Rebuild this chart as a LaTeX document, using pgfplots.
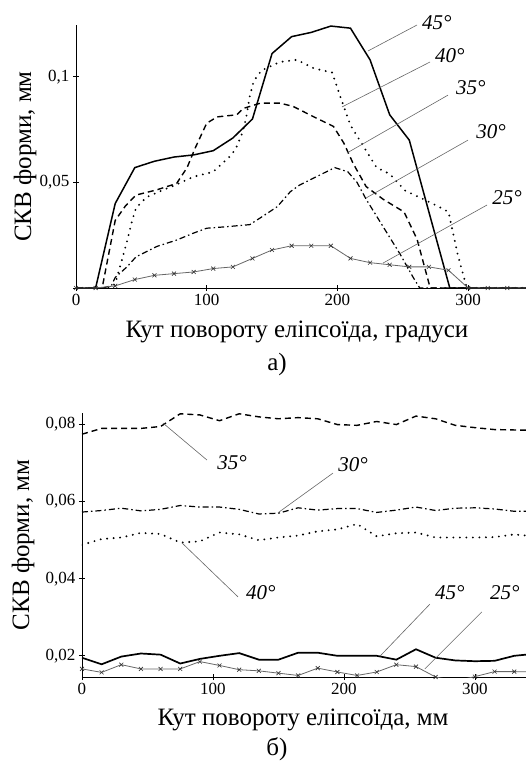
\documentclass[border=0pt]{standalone}
\usepackage{fontspec}
\setmainfont{Liberation Serif}
\usepackage{pgfplots}
\pgfplotsset{compat=1.18}
\tikzset{
 leader/.style={black!60, line width=0.6pt},
 deg/.style={font=\fontsize{21}{23}\selectfont\itshape},
}
\begin{document}
\begin{tikzpicture}
\useasboundingbox (0pt,0pt) rectangle (526pt,-766pt);
\pgfplotsset{
 common/.style={
  scale only axis, clip mode=individual,
  axis x line=bottom, axis y line=left,
  axis line style={-, line width=0.9pt},
  tick style={black, line width=0.8pt},
  tick align=center, major tick length=6pt,
  scaled y ticks=false, scaled x ticks=false,
  /pgf/number format/assume math mode=true,
  ticklabel style={font=\fontsize{17}{19}\selectfont},
  label style={font=\fontsize{25}{27}\selectfont},
 },
 s45/.style={black, line width=1.5pt, mark=none},
 s40/.style={black, line width=2.1pt, line cap=round, dash pattern=on 0pt off 6.5pt, mark=none},
 s35/.style={black, line width=1.4pt, dash pattern=on 6pt off 4pt, mark=none},
 s30/.style={black, line width=1.2pt, dash pattern=on 6pt off 3pt on 1.5pt off 3pt, mark=none},
 s25/.style={black!60, line width=0.8pt, mark=x, mark size=2.8pt, mark options={solid, black!80, line width=0.6pt}},
}
% ---------------- a) ----------------
\begin{axis}[common, at={(76pt,-288pt)}, anchor=south west,
  width=450pt, height=263pt,
  xmin=0, xmax=344.3, ymin=0, ymax=0.1245,
  xtick={0,100,200,300}, ytick={0,0.05,0.1},
  yticklabels={{},{0,05},{0,1}},
  xlabel={Кут повороту еліпсоїда, градуси},
  ylabel={СКВ форми, мм},
  xlabel style={at={(axis description cs:0.491,-0.167)}, anchor=center},
  ylabel style={at={(axis description cs:-0.1133,0.5)}, anchor=center},
]
\addplot[s45] coordinates {(0,0)(15,0)(30,0.040)(45,0.057)(60,0.060)(75,0.062)(90,0.063)(105,0.065)(120,0.071)(135,0.080)(150,0.111)(165,0.119)(180,0.121)(195,0.124)(210,0.123)(225,0.108)(240,0.082)(255,0.070)(270,0.036)(286,0)(345,0)};
\addplot[s40] coordinates {(0,0)(25,0)(30,0.002)(35,0.013)(39,0.022)(43,0.032)(46,0.038)(54,0.043)(67,0.0465)(77,0.049)(90,0.0527)(105,0.055)(112,0.059)(119,0.063)(123,0.067)(127,0.073)(130,0.080)(133,0.091)(136,0.098)(142,0.103)(156,0.107)(169,0.108)(182,0.104)(196,0.102)(202,0.091)(210,0.077)(222,0.065)(230,0.057)(240,0.054)(252,0.046)(266,0.042)(279,0.038)(285,0.036)(292,0.016)(299,0)(345,0)};
\addplot[s35] coordinates {(0,0)(20,0)(30,0.032)(38,0.039)(46,0.044)(62,0.0465)(77,0.0495)(85,0.057)(91,0.066)(100,0.078)(108,0.081)(123,0.082)(128,0.085)(141,0.0875)(156,0.0875)(166,0.086)(182,0.081)(197,0.0765)(205,0.0685)(212,0.059)(222,0.048)(235,0.042)(251,0.036)(261,0.023)(271,0)(345,0)};
\addplot[s30] coordinates {(0,0)(20,0)(27,0.001)(30,0.005)(39,0.010)(46,0.0148)(62,0.0197)(77,0.0227)(90,0.026)(100,0.0283)(115,0.029)(133,0.030)(143,0.034)(154,0.0385)(164,0.0456)(171,0.0487)(184,0.0527)(198,0.057)(208,0.055)(215,0.050)(222,0.042)(235,0.029)(248,0.016)(258,0.005)(263,0)(345,0)};
\addplot[s25] coordinates {(0,0)(15,0)(30,0.001)(45,0.004)(60,0.006)(75,0.0068)(90,0.0076)(105,0.0092)(120,0.010)(135,0.014)(150,0.018)(165,0.020)(180,0.020)(195,0.020)(210,0.014)(225,0.012)(240,0.011)(255,0.010)(270,0.010)(285,0.0084)(300,0)(315,0)(330,0)(345,0)};
\draw[leader] (axis cs:223.4,0.1122) -- (axis cs:260.9,0.1245);
\draw[leader] (axis cs:203.5,0.0857) -- (axis cs:270.9,0.107);
\draw[leader] (axis cs:207.3,0.0639) -- (axis cs:284.6,0.0913);
\draw[leader] (axis cs:221.9,0.0426) -- (axis cs:299.9,0.070);
\draw[leader] (axis cs:234.9,0.0118) -- (axis cs:314.5,0.0393);
\node[deg] at (axis cs:276,0.1254) {45°};
\node[deg] at (axis cs:286,0.1098) {40°};
\node[deg] at (axis cs:302,0.0947) {35°};
\node[deg] at (axis cs:317.5,0.0738) {30°};
\node[deg] at (axis cs:329.8,0.0426) {25°};
\end{axis}
\node[font=\fontsize{25}{27}\selectfont] at (277pt,-364pt) {а)};
% ---------------- b) ----------------
\begin{axis}[common, at={(82pt,-677pt)}, anchor=south west,
  width=444pt, height=264pt,
  xmin=0, xmax=339, ymin=0.0145, ymax=0.083,
  xtick={0,100,200,300}, ytick={0.02,0.04,0.06,0.08},
  yticklabels={{0,02},{0,04},{0,06},{0,08}},
  xlabel={Кут повороту еліпсоїда, мм},
  ylabel={СКВ форми, мм},
  xlabel style={at={(axis description cs:0.498,-0.163)}, anchor=center},
  ylabel style={at={(axis description cs:-0.1329,0.5)}, anchor=center},
]
\addplot[s35] coordinates {(0,0.0775)(15,0.079)(30,0.079)(45,0.079)(60,0.0795)(75,0.0828)(90,0.0825)(105,0.081)(120,0.0828)(135,0.082)(150,0.0815)(165,0.0818)(180,0.0815)(195,0.080)(210,0.0798)(225,0.0808)(240,0.080)(255,0.0822)(270,0.0815)(285,0.0798)(300,0.0792)(315,0.0787)(330,0.0786)(345,0.0785)};
\addplot[s30] coordinates {(0,0.0573)(15,0.0577)(30,0.0583)(45,0.0576)(60,0.058)(75,0.059)(90,0.0586)(105,0.0586)(120,0.058)(135,0.0568)(150,0.057)(165,0.0584)(180,0.0578)(195,0.0582)(210,0.0582)(225,0.0572)(240,0.0578)(255,0.0586)(270,0.0577)(285,0.0583)(300,0.0584)(315,0.0581)(330,0.0575)(345,0.0575)};
\addplot[s40] coordinates {(0,0.0488)(15,0.0503)(30,0.0507)(45,0.0519)(60,0.0516)(75,0.0494)(90,0.0497)(105,0.052)(120,0.0515)(135,0.050)(150,0.0507)(165,0.0512)(180,0.0523)(195,0.0528)(210,0.0542)(225,0.051)(240,0.0518)(255,0.052)(270,0.0507)(285,0.0507)(300,0.0507)(315,0.0508)(330,0.0515)(345,0.051)};
\addplot[s45, line width=1.7pt] coordinates {(0,0.0195)(15,0.0178)(30,0.0198)(45,0.0206)(60,0.0203)(75,0.0180)(90,0.0192)(105,0.0200)(120,0.0207)(135,0.0190)(150,0.0190)(165,0.0208)(180,0.0208)(195,0.0200)(210,0.0200)(225,0.0200)(240,0.0190)(255,0.0217)(270,0.0195)(285,0.0188)(300,0.0186)(315,0.0187)(330,0.0200)(345,0.0205)};
\addplot[s25] coordinates {(0,0.0166)(15,0.0157)(30,0.0177)(45,0.0166)(60,0.0166)(75,0.0166)(90,0.0185)(105,0.0175)(120,0.0164)(135,0.0161)(150,0.0155)(165,0.0149)(180,0.0168)(195,0.0158)(210,0.0149)(225,0.0158)(240,0.0177)(255,0.0172)(270,0.0145)(285,0.0135)(300,0.0146)(315,0.0159)(330,0.0159)(345,0.0158)};
\draw[leader] (axis cs:61.8,0.0804) -- (axis cs:95.4,0.0708);
\draw[leader] (axis cs:149.6,0.0571) -- (axis cs:191.6,0.0674);
\draw[leader] (axis cs:76.3,0.0493) -- (axis cs:119.1,0.0353);
\draw[leader] (axis cs:227.5,0.0199) -- (axis cs:265.6,0.0334);
\draw[leader] (axis cs:261.8,0.0166) -- (axis cs:305.3,0.0314);
\node[deg] at (axis cs:114.5,0.0700) {35°};
\node[deg] at (axis cs:206.9,0.0695) {30°};
\node[deg] at (axis cs:136.6,0.0363) {40°};
\node[deg] at (axis cs:280.9,0.0363) {45°};
\node[deg] at (axis cs:322.9,0.0363) {25°};
\end{axis}
\node[font=\fontsize{25}{27}\selectfont] at (277pt,-749pt) {б)};
\end{tikzpicture}
\end{document}
